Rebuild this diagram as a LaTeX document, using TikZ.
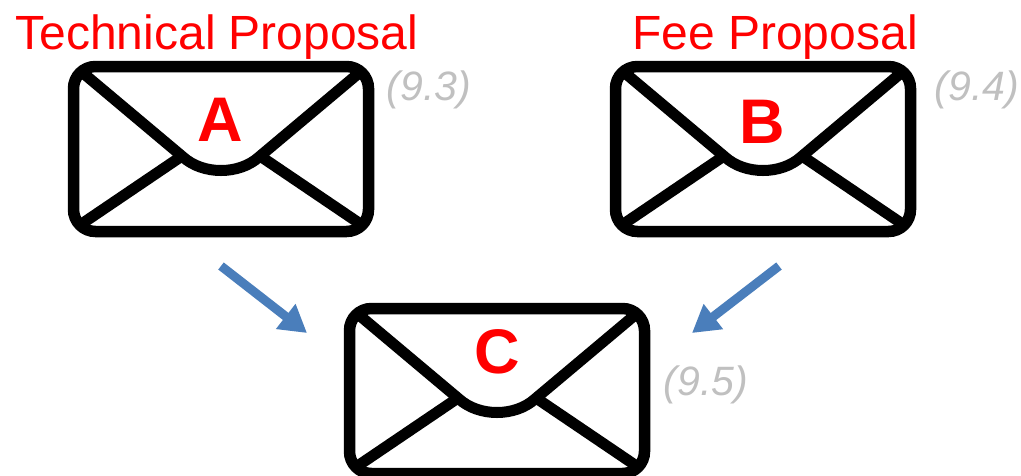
\documentclass[tikz,border=0pt]{standalone}
\usepackage{fontspec}
\setmainfont{Liberation Sans}
\usetikzlibrary{arrows.meta}

\definecolor{flowblue}{HTML}{4A7EBB}
\definecolor{refgray}{HTML}{C0C0C0}

\begin{document}
\begin{tikzpicture}[x=1pt, y=-1pt,
    envbox/.style = {draw=black, line width=11.5pt, rounded corners=22pt, inner sep=0pt,
                     minimum width=295pt, minimum height=165pt},
    envline/.style = {draw=black, line width=11pt, line join=round},
    letter/.style = {red, inner sep=0pt, anchor=center, font=\fontsize{63}{63}\selectfont\bfseries},
    title/.style = {red, inner sep=0pt, anchor=base, font=\fontsize{48}{48}\selectfont},
    reflabel/.style = {refgray, inner sep=0pt, anchor=center, font=\fontsize{41}{41}\selectfont\itshape},
    flow/.style = {draw=flowblue, line width=9pt, -{Triangle[length=27pt, width=30pt]}}]
\clip (0,0) rectangle (1021,475);
\fill [white] (0,0) rectangle (1021,475);
% the three envelopes
\node [envbox] (enva) at (221,149) {};
\node [envbox] (envb) at (763,149) {};
\node [envbox] (envc) at (497,391) {};
\foreach \e in {enva,envb,envc} {
  \draw [envline] ([shift={(-138,-76)}]\e.center) -- ([shift={(-38,8)}]\e.center)
    .. controls ([shift={(-18,26)}]\e.center) and ([shift={(18,26)}]\e.center) .. ([shift={(38,8)}]\e.center)
    -- ([shift={(138,-76)}]\e.center);
  \draw [envline] ([shift={(-138,74)}]\e.center) -- ([shift={(-42,9)}]\e.center);
  \draw [envline] ([shift={(138,74)}]\e.center) -- ([shift={(42,9)}]\e.center);
}
\node [letter] (lettera) at (220,120) {A};
\node [letter] (letterb) at (762,122) {B};
\node [letter] (letterc) at (497,352) {C};
\node [title] (titlea) at (217,49) {Technical Proposal};
\node [title] (titleb) at (775,49) {Fee Proposal};
\node [reflabel] (refa) at (429,90) {(9.3)};
\node [reflabel] (refb) at (977,90) {(9.4)};
\node [reflabel] (refc) at (706,385) {(9.5)};
% arrows into the lower envelope
\coordinate (outa) at (221,266);
\coordinate (ina) at (307,333);
\coordinate (outb) at (779,266);
\coordinate (inb) at (692,333);
\draw [flow] (outa) -- (ina);
\draw [flow] (outb) -- (inb);
\end{tikzpicture}
\end{document}
